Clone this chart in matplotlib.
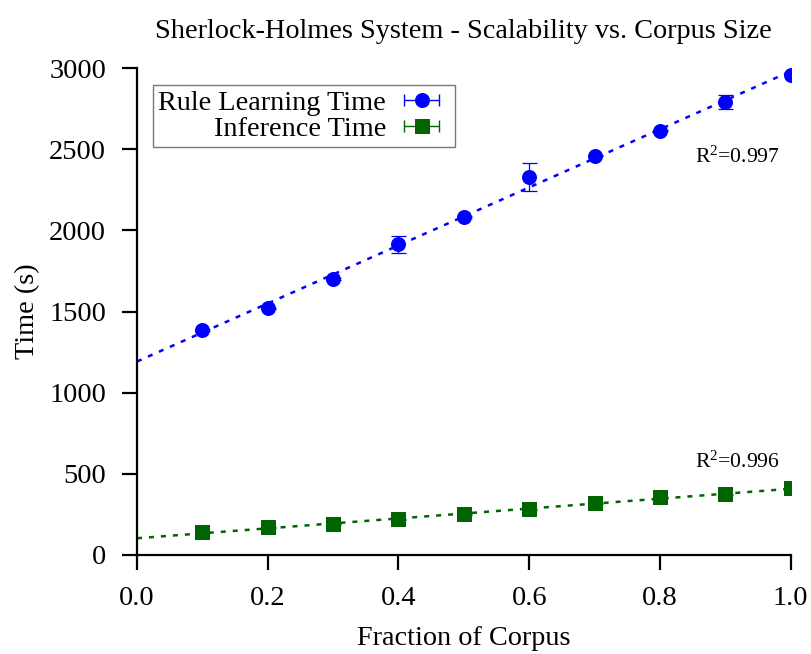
import numpy as np
import matplotlib
matplotlib.use("Agg")
import matplotlib.pyplot as plt
from matplotlib.legend_handler import HandlerErrorbar

plt.rcParams["font.family"] = ["Liberation Serif", "DejaVu Serif"]
plt.rcParams["mathtext.fontset"] = "custom"
plt.rcParams["mathtext.rm"] = "Liberation Serif"
plt.rcParams["mathtext.it"] = "Liberation Serif"

# Fraction of the corpus used
fraction = [0.1, 0.2, 0.3, 0.4, 0.5, 0.6, 0.7, 0.8, 0.9, 1.0]

# Rule learning time (s) and its spread
rule_time = [1386, 1520, 1699, 1915, 2085, 2328, 2462, 2616, 2795, 2960]
rule_err = [5, 4, 6, 53, 5, 87, 5, 4, 44, 5]

# Inference time (s) and its spread
infer_time = [137, 168, 186, 217, 248, 279, 316, 353, 372, 409]
infer_err = [3, 3, 3, 3, 3, 3, 3, 3, 3, 3]

r2_labels = ["R$^2$=0.997", "R$^2$=0.996"]

BLUE = "#0000ff"
GREEN = "#006400"

fig = plt.figure(figsize=(8.12, 6.54), dpi=100)
ax = fig.add_axes([0.1687, 0.1521, 0.8051, 0.7432])

x = np.array(fraction)
xs = np.linspace(0.0, 1.0, 50)

for y, err, col, mk in [(rule_time, rule_err, BLUE, "o"),
                         (infer_time, infer_err, GREEN, "s")]:
    coef = np.polyfit(x, y, 1)
    ax.plot(xs, np.polyval(coef, xs), color=col, lw=1.8,
            linestyle=(0, (2.0, 2.8)), zorder=2)
    eb = ax.errorbar(x, y, yerr=err, fmt=mk, color=col, ms=10.8,
                     elinewidth=0.9, capsize=5.4, capthick=0.9, zorder=3)
    eb[0].set_markeredgewidth(0)


def legend_proxy(mk, col):
    # horizontal error bar used as the key symbol
    h = ax.errorbar([np.nan], [np.nan], xerr=[0.1], fmt=mk, color=col,
                    ms=10.8, elinewidth=1.0, capsize=4.5, capthick=1.0)
    h[0].set_markeredgewidth(0)
    return h


h1 = legend_proxy("o", BLUE)
h2 = legend_proxy("s", GREEN)
leg = ax.legend([h1, h2], ["Rule Learning Time", "Inference Time"],
                loc="upper left", bbox_to_anchor=(0.024, 0.967),
                markerfirst=False, frameon=True, fancybox=False,
                edgecolor="#555555", fontsize=20.3, handlelength=1.98,
                handletextpad=0.27, borderpad=0.2, labelspacing=0.0,
                borderaxespad=0.0,
                handler_map={type(h1): HandlerErrorbar(xerr_size=0.62)})
leg.get_frame().set_linewidth(1.0)

ax.text(0.854, 2420, r2_labels[0], fontsize=15.6, ha="left", va="baseline")
ax.text(0.854, 535, r2_labels[1], fontsize=15.6, ha="left", va="baseline")

ax.set_xlim(0.0, 1.0)
ax.set_ylim(0, 3000)
ax.set_xticks([0.0, 0.2, 0.4, 0.6, 0.8, 1.0])
ax.set_xticklabels(["0.0", "0.2", "0.4", "0.6", "0.8", "1.0"])
ax.set_yticks([0, 500, 1000, 1500, 2000, 2500, 3000])

for s in ["top", "right"]:
    ax.spines[s].set_visible(False)
for s in ["left", "bottom"]:
    ax.spines[s].set_linewidth(1.6)
ax.tick_params(direction="out", length=10.8, width=1.6, labelsize=20.5)
ax.tick_params(axis="y", pad=11.5)
ax.tick_params(axis="x", pad=12)

ax.set_xlabel("Fraction of Corpus", fontsize=20.3, labelpad=11)
ax.set_ylabel("Time (s)", fontsize=20.3, labelpad=6.5)
ax.set_title("Sherlock-Holmes System - Scalability vs. Corpus Size",
             fontsize=20.3, pad=22)

fig.savefig("out.png", dpi=100)
